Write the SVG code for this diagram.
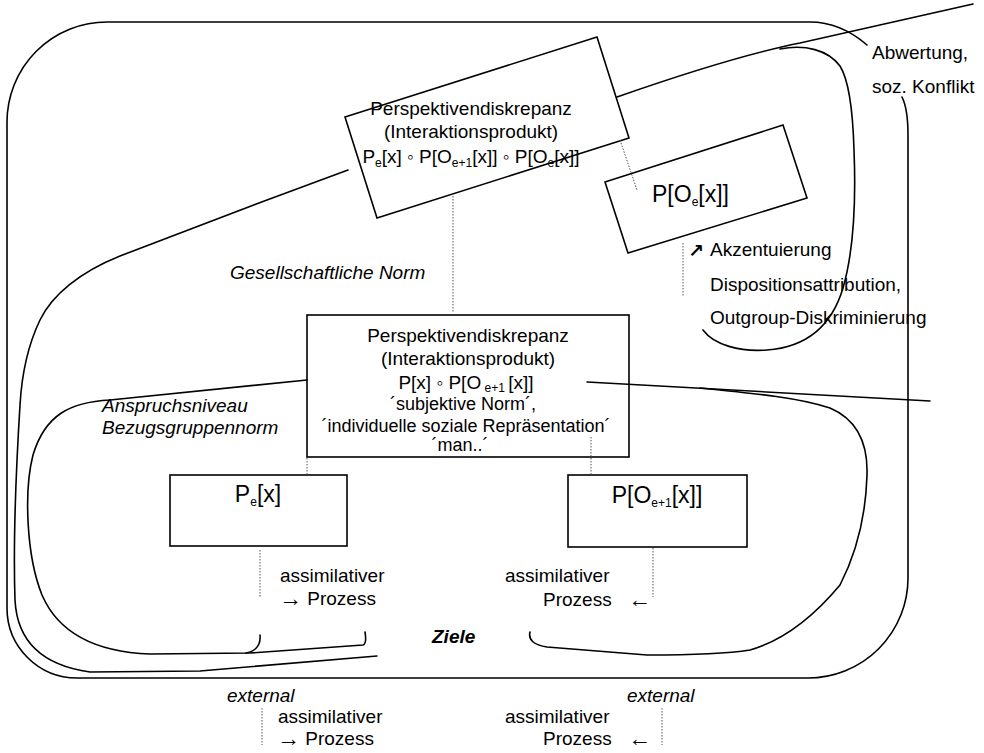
<svg xmlns="http://www.w3.org/2000/svg" width="984" height="753" viewBox="0 0 984 753">
<style>
text{font-family:"Liberation Sans",Arial,"DejaVu Sans",sans-serif;font-size:19px;fill:#000}
.c{text-anchor:middle}
.e{text-anchor:end}
.i{font-style:italic}
.b{font-weight:bold}
.big{font-size:23px}
.sm{font-size:18px}
.sub{font-size:12px}
.ar{font-size:23px}
.line{fill:none;stroke:#000;stroke-width:1.6;stroke-linecap:round;stroke-linejoin:round}
.box{fill:none;stroke:#000;stroke-width:1.6;stroke-linejoin:miter}
.dot{fill:none;stroke:#555;stroke-width:1;stroke-dasharray:1.5 1.5}
</style>
<rect width="984" height="753" fill="#fff"/>

<g id="frame">
<path class="line" d="M902,97 C906,105 908,118 908,135 L908,578 A100,100 0 0 1 808,678 L77,678 A70,70 0 0 1 7,608 L7,122 A100,100 0 0 1 107,22 L810,22 C832,22 852,32 867,45"/>
</g>

<g id="node-discrepancy-top">
<polygon class="box" points="345,117 597,37 629,138 377,218"/>
<text class="c" x="471" y="115">Perspektivendiskrepanz</text>
<text class="c" x="471" y="138">(Interaktionsprodukt)</text>
<text class="c" x="471" y="163">P<tspan class="sub" dy="4">e</tspan><tspan dy="-4">[x] ◦ P[O</tspan><tspan class="sub" dy="4">e+1</tspan><tspan dy="-4">[x]] ◦ P[O</tspan><tspan class="sub" dy="4">e</tspan><tspan dy="-4">[x]]</tspan></text>
</g>

<g id="node-poe">
<polygon class="box" points="605,182 783,125 807,198 628,253"/>
<text class="big" x="652" y="202">P[O<tspan class="sub" font-size="14" dy="4">e</tspan><tspan dy="-4">[x]]</tspan></text>
</g>

<g id="node-discrepancy-middle">
<rect class="box" x="307" y="315" width="322" height="142"/>
<text class="c" x="468" y="342">Perspektivendiskrepanz</text>
<text class="c" x="468" y="365">(Interaktionsprodukt)</text>
<text class="c" x="466" y="389">P[x] ◦ P[O<tspan class="sub" dy="3"> e+1 </tspan><tspan dy="-3">[x]]</tspan></text>
<text class="c sm" x="463" y="410">´subjektive Norm´,</text>
<text class="c sm" x="466" y="432">´individuelle soziale Repräsentation´</text>
<text class="c sm" x="460" y="451">´man..´</text>
</g>

<g id="node-pe">
<rect class="box" x="170" y="475" width="177" height="71"/>
<text class="c big" x="258" y="502">P<tspan class="sub" font-size="14" dy="4">e</tspan><tspan dy="-4">[x]</tspan></text>
</g>

<g id="node-poe1">
<rect class="box" x="568" y="475" width="179" height="72"/>
<text class="c big" x="657" y="503">P[O<tspan class="sub" font-size="14" dy="4">e+1</tspan><tspan dy="-4">[x]]</tspan></text>
</g>

<g id="labels">
<text x="872" y="59">Abwertung,</text>
<text x="872" y="93">soz. Konflikt</text>
<text x="688" y="257" font-size="20" font-weight="bold">↗</text>
<text x="710" y="256">Akzentuierung</text>
<text x="710" y="291">Dispositionsattribution,</text>
<text x="710" y="324">Outgroup-Diskriminierung</text>
<text class="i" x="230" y="279">Gesellschaftliche Norm</text>
<text class="i" x="102" y="412">Anspruchsniveau</text>
<text class="i" x="102" y="434">Bezugsgruppennorm</text>
<text x="280" y="582">assimilativer</text>
<text x="279" y="605"><tspan class="ar" dy="1">→</tspan><tspan dy="-1"> Prozess</tspan></text>
<text x="505" y="582">assimilativer</text>
<text x="543" y="606">Prozess<tspan class="ar" x="628" dy="1">←</tspan></text>
<text class="i b" x="432" y="643">Ziele</text>
<text class="i" x="227" y="702">external</text>
<text class="i" x="627" y="702">external</text>
<text x="278" y="723">assimilativer</text>
<text x="277" y="745"><tspan class="ar" dy="1">→</tspan><tspan dy="-1"> Prozess</tspan></text>
<text x="505" y="723">assimilativer</text>
<text x="543" y="745">Prozess<tspan class="ar" x="628" dy="1">←</tspan></text>
</g>

<g id="connectors">
<path class="line" d="M973,4 L800,43 C765,50 700,68 617,97"/>
<path class="line" d="M348,170 L267,200 L120,256 C80,272 52,295 40,320 C28,345 22,370 20,405 C16,470 13,540 15,600 C17,640 40,665 90,672 L200,671 L377,656"/>
<path class="line" d="M307,380 L110,400 C70,402 45,415 33,455 C24,490 26,555 42,595 C58,632 95,652 150,654 L250,653 L363,645 C366,644 366,638 365,632"/>
<path class="line" d="M260,635 C261,645 256,651 246,653"/>
<path class="line" d="M530,632 C528,640 534,645 547,647 L647,655 C690,655 725,654 750,650 C785,640 815,615 840,585 C858,550 866,510 867,475 C868,445 858,420 830,408 C800,398 760,394 700,388"/>
<path class="line" d="M587,382 L930,401"/>
<path class="line" d="M780,49 C805,44 828,50 840,66 C850,82 853,115 854,150 C856,200 854,250 843,288 C832,325 808,347 767,350 C740,352 714,345 703,330"/>
<path class="dot" d="M453,196 L453,313"/>
<path class="dot" d="M307,458 L307,475"/>
<path class="dot" d="M591,437 L591,475"/>
<path class="dot" d="M260,550 L260,598"/>
<path class="dot" d="M653,548 L653,597"/>
<path class="dot" d="M262,708 L262,745"/>
<path class="dot" d="M662,708 L662,745"/>
<path class="dot" d="M683,243 L683,297"/>
<path class="dot" d="M620,140 L637,190"/>
</g>
</svg>
